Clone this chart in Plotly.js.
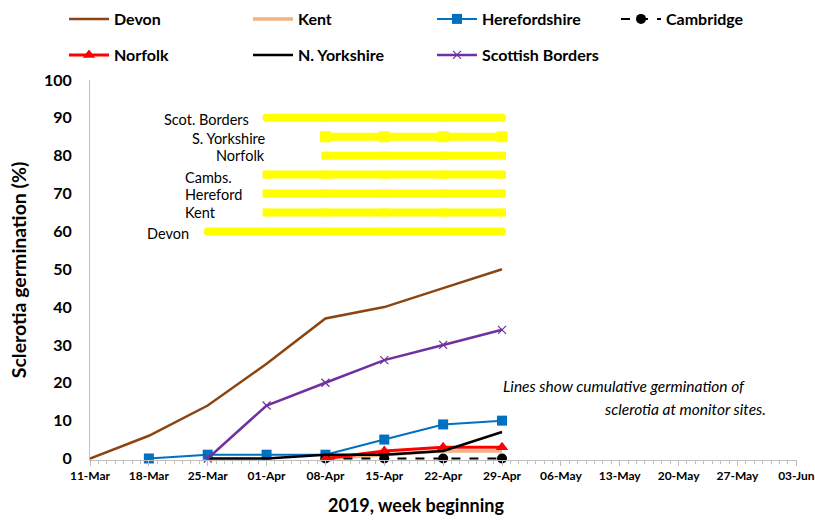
<!DOCTYPE html>
<html>
<head>
<meta charset="utf-8">
<script src="https://cdn.plot.ly/plotly-3.0.1.min.js"></script>
<style>html,body{margin:0;padding:0;background:#fff;}#chart{width:815px;height:520px;}</style>
</head>
<body>
<div id="chart"></div>
<script>
// Week-beginning dates
const weeks = ["2019-03-11","2019-03-18","2019-03-25","2019-04-01","2019-04-08","2019-04-15","2019-04-22","2019-04-29"];

// Cumulative germination (%) per site
const devonWeeks = weeks;
const devonVals = [0, 6, 14, 25, 37, 40, 45, 50];
const kentWeeks = weeks.slice(4);
const kentVals = [0, 1, 2, 2];
const herefordWeeks = weeks.slice(1);
const herefordVals = [0, 1, 1, 1, 5, 9, 10];
const cambridgeWeeks = weeks.slice(4);
const cambridgeVals = [0, 0, 0, 0];
const norfolkWeeks = weeks.slice(4);
const norfolkVals = [0, 2, 3, 3];
const nyorksWeeks = weeks.slice(2);
const nyorksVals = [0, 0, 1, 1, 2, 7];
const scotWeeks = weeks.slice(2);
const scotVals = [0, 14, 20, 26, 30, 34];

// Monitoring periods (yellow bars): label, level, start, end
const periodLabels = ["Scot. Borders","S. Yorkshire","Norfolk","Cambs.","Hereford","Kent","Devon"];
const periodLevels = [90, 85, 80, 75, 70, 65, 60];
const periodStart = ["2019-04-01","2019-04-08","2019-04-08","2019-04-01","2019-04-01","2019-04-01","2019-03-25"];
const periodEnd = ["2019-04-29","2019-04-29","2019-04-29","2019-04-29","2019-04-29","2019-04-29","2019-04-29"];

const FONT = "Lato, 'Liberation Sans', sans-serif";
const W = 815, H = 520, L = 90, R = 18, T = 80, B = 60;
const px = x => (x - L) / (W - L - R);
const py = y => 1 - (y - T) / (H - T - B);

function weeklyBetween(a, b) {
  const out = [];
  for (const w of weeks) if (w >= a && w <= b) out.push(w);
  return out;
}

const traces = [];
const barStyles = {
  "Scot. Borders": {sym: "circle", ms: 8},
  "S. Yorkshire": {sym: "square", ms: 11},
  "Norfolk": {sym: "square", ms: 8},
  "Cambs.": {sym: "square", ms: 8},
  "Hereford": {sym: "square", ms: 8},
  "Kent": {sym: "square", ms: 8},
  "Devon": {sym: "circle", ms: 8}
};
periodLabels.forEach((lab, i) => {
  const xs = weeklyBetween(periodStart[i], periodEnd[i]);
  const st = barStyles[lab];
  traces.push({
    x: xs, y: xs.map(() => periodLevels[i]),
    mode: "lines+markers", type: "scatter", showlegend: false, hoverinfo: "skip",
    line: {color: "#FFFF00", width: 8},
    marker: {symbol: st.sym, size: st.ms, color: "#FFFF00"}
  });
});

traces.push({x: devonWeeks, y: devonVals, name: "Devon", mode: "lines", legend: "legend",
  line: {color: "#8B4513", width: 2.5}});
traces.push({x: kentWeeks, y: kentVals, name: "Kent", mode: "lines", legend: "legend2",
  line: {color: "#F4B183", width: 3.5}});
traces.push({x: herefordWeeks, y: herefordVals, name: "Herefordshire", mode: "lines+markers", legend: "legend3",
  cliponaxis: false,
  line: {color: "#0070C0", width: 2}, marker: {symbol: "square", size: 10, color: "#0070C0"}});
traces.push({x: cambridgeWeeks, y: cambridgeVals, name: "Cambridge", mode: "lines+markers", legend: "legend4",
  cliponaxis: false,
  line: {color: "#000000", width: 2, dash: "dash"}, marker: {symbol: "circle", size: 10, color: "#000000"}});
traces.push({x: norfolkWeeks, y: norfolkVals, name: "Norfolk", mode: "lines+markers", legend: "legend5",
  cliponaxis: false,
  line: {color: "#FF0000", width: 3}, marker: {symbol: "triangle-up", size: 11, color: "#FF0000"}});
traces.push({x: nyorksWeeks, y: nyorksVals, name: "N. Yorkshire", mode: "lines", legend: "legend6",
  line: {color: "#000000", width: 2.5}});
traces.push({x: scotWeeks, y: scotVals, name: "Scottish Borders", mode: "lines+markers", legend: "legend7",
  cliponaxis: false,
  line: {color: "#7030A0", width: 2.5}, marker: {symbol: "x-thin", size: 8, line: {color: "#7030A0", width: 1.2}, color: "#7030A0"}});

const labelPos = [
  {x: 251, y: 119, anchor: "right"},
  {x: 268, y: 138, anchor: "right"},
  {x: 267, y: 155, anchor: "right"},
  {x: 183, y: 177, anchor: "left"},
  {x: 183, y: 195, anchor: "left"},
  {x: 183, y: 212, anchor: "left"},
  {x: 191, y: 233, anchor: "right"}
];
const annotations = periodLabels.map((lab, i) => ({
  text: lab, xref: "paper", yref: "paper",
  x: px(labelPos[i].x), y: py(labelPos[i].y),
  xanchor: labelPos[i].anchor, yanchor: "middle", showarrow: false,
  font: {family: FONT, size: 14.5, color: "#000"}
}));
annotations.push({text: "<i>Lines show cumulative germination of</i>", xref: "paper", yref: "paper",
  x: px(501), y: py(386), xanchor: "left", yanchor: "middle", showarrow: false,
  font: {family: FONT, size: 15.5, color: "#000"}});
annotations.push({text: "<i>sclerotia at monitor sites.</i>", xref: "paper", yref: "paper",
  x: px(768), y: py(409), xanchor: "right", yanchor: "middle", showarrow: false,
  font: {family: FONT, size: 15.5, color: "#000"}});
// x-axis title (placed as in the reference, left of plot centre)
annotations.push({text: "<b>2019, week beginning</b>", xref: "paper", yref: "paper",
  x: px(416), y: py(505), xanchor: "center", yanchor: "middle", showarrow: false,
  borderpad: 0,
  font: {family: FONT, size: 18, color: "#000"}});

function leg(colX, rowY) {
  return {
    orientation: "h", xref: "container", yref: "container",
    x: (colX - 5) / W, xanchor: "left",
    y: 1 - rowY / H, yanchor: "middle",
    itemwidth: 40,
    font: {family: FONT, size: 16, color: "#000", weight: "bold"},
    bgcolor: "rgba(0,0,0,0)", itemclick: false
  };
}
const colXs = [69, 253, 437, 621];
const rowYs = [19, 55];

const layout = {
  width: W, height: H,
  margin: {l: L, r: R, t: T, b: B},
  paper_bgcolor: "#fff", plot_bgcolor: "#fff",
  font: {family: FONT, color: "#000"},
  showlegend: true,
  legend: leg(colXs[0], rowYs[0]),
  legend2: leg(colXs[1], rowYs[0]),
  legend3: leg(colXs[2], rowYs[0]),
  legend4: leg(colXs[3], rowYs[0]),
  legend5: leg(colXs[0], rowYs[1]),
  legend6: leg(colXs[1], rowYs[1]),
  legend7: leg(colXs[2], rowYs[1]),
  xaxis: {
    type: "date",
    range: ["2019-03-11", "2019-06-03 02:00"],
    tick0: "2019-03-11", dtick: 7 * 86400000,
    tickformat: "%d-%b",
    showgrid: false, zeroline: false,
    showline: true, linecolor: "#BFBFBF", linewidth: 1,
    ticks: "outside", ticklen: 5, tickcolor: "#BFBFBF",
    minor: {dtick: 86400000, ticks: "outside", ticklen: 3, tickcolor: "#BFBFBF", showgrid: false},
    tickfont: {family: FONT, size: 12, color: "#000", weight: "bold"}
  },
  yaxis: {
    range: [-0.4, 100], tick0: 0, dtick: 10,
    showgrid: false, zeroline: false,
    showline: true, linecolor: "#BFBFBF", linewidth: 1,
    ticks: "", ticklabelstandoff: 14,
    tickfont: {family: FONT, size: 16, color: "#000", weight: "bold"},
    title: {text: "Sclerotia germination (%)", standoff: 12, font: {family: FONT, size: 19.5, color: "#000", weight: "bold"}}
  },
  annotations: annotations
};

Plotly.newPlot("chart", traces, layout, {staticPlot: true, displayModeBar: false});
</script>
</body>
</html>
